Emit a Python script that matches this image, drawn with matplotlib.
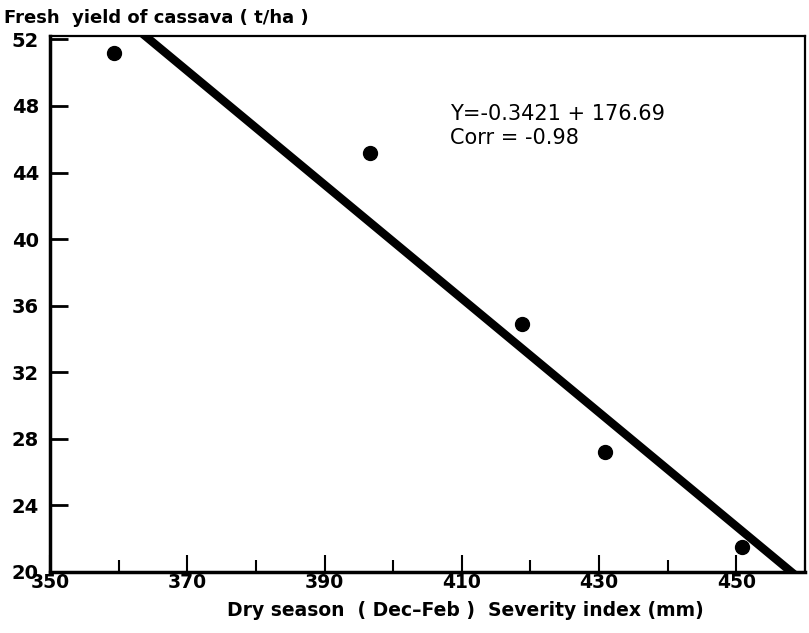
import numpy as np
import matplotlib.pyplot as plt
from matplotlib.ticker import MultipleLocator

# severity index (mm) and fresh cassava yield (t/ha)
severity = [359.3, 396.6, 418.8, 430.8, 450.9]
yield_t = [51.2, 45.2, 34.9, 27.2, 21.5]

# fitted line Y = -0.3421 X + 176.69
slope = -0.3421
intercept = 176.69

x_ticks = [350, 370, 390, 410, 430, 450]
y_ticks = [20, 24, 28, 32, 36, 40, 44, 48, 52]

fig = plt.figure(figsize=(8.09, 6.33), dpi=100)
ax = fig.add_axes([0.0618, 0.0964, 0.9332, 0.8466])

ax.plot(severity, yield_t, 'o', color='black', markersize=10, zorder=3)

xs = np.array([340.0, 470.0])
ax.plot(xs, slope * xs + intercept, color='black', linewidth=6,
        solid_capstyle='butt', zorder=2)

ax.set_xlim(350, 460)
ax.set_ylim(20, 52.2)

ax.set_xticks(x_ticks)
ax.xaxis.set_minor_locator(MultipleLocator(10))
ax.set_yticks(y_ticks)

ax.tick_params(axis='x', which='major', direction='in', length=12, width=1.5,
               labelsize=13.5, pad=1)
ax.tick_params(axis='x', which='minor', direction='in', length=9, width=1.5)
ax.tick_params(axis='y', which='major', direction='in', length=13, width=2,
               labelsize=14, pad=8)
for lbl in ax.get_xticklabels() + ax.get_yticklabels():
    lbl.set_fontweight('bold')

for side in ['left', 'bottom']:
    ax.spines[side].set_linewidth(2.5)
for side in ['top', 'right']:
    ax.spines[side].set_linewidth(1.6)

fig.text(0.575, 0.02, 'Dry season  ( Dec–Feb )  Severity index (mm)',
         fontsize=13.5, fontweight='bold', ha='center', va='bottom')
fig.text(0.005, 0.985, 'Fresh  yield of cassava ( t/ha )', fontsize=13,
         fontweight='bold', ha='left', va='top')

ax.text(0.53, 0.832, 'Y=-0.3421 + 176.69\nCorr = -0.98', transform=ax.transAxes,
        fontsize=15, ha='left', va='center', linespacing=1.25)

fig.savefig('out.png', dpi=100)
